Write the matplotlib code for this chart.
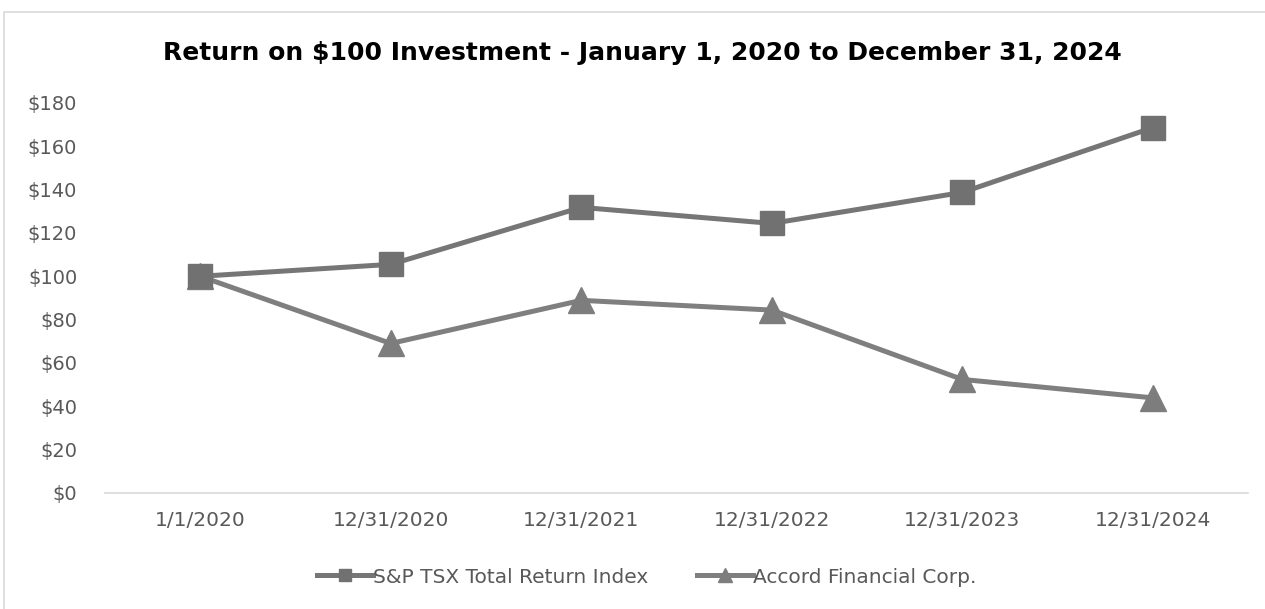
import matplotlib.pyplot as plt
import matplotlib.patches as mpatches
import numpy as np

plt.rcParams['font.family'] = ['DejaVu Sans']

# 数据
dates = ['1/1/2020', '12/31/2020', '12/31/2021', '12/31/2022', '12/31/2023', '12/31/2024']
tsx = [100, 105.5, 131.8, 124.4, 138.7, 168.6]
accord = [100, 69.0, 88.9, 84.4, 52.4, 43.9]
y_ticks = [0, 20, 40, 60, 80, 100, 120, 140, 160, 180]

TEXT = '#595959'

fig = plt.figure(figsize=(12.65, 6.09), dpi=100)
ax = fig.add_axes([0.083, 0.1905, 0.9036, 0.6405])

x = np.arange(len(dates))
ax.plot(x, tsx, color='#767676', linewidth=3.6, marker='s', markersize=17,
        markerfacecolor='#717171', markeredgecolor='#717171',
        label='S&P TSX Total Return Index', zorder=3)
ax.plot(x, accord, color='#7f7f7f', linewidth=3.6, marker='^', markersize=19,
        markerfacecolor='#7d7d7d', markeredgecolor='#7d7d7d',
        label='Accord Financial Corp.', zorder=2)

ax.set_xlim(-0.5, len(dates) - 0.5)
ax.set_ylim(0, 180)
ax.set_xticks(x)
ax.set_xticklabels(dates, fontsize=14.5, color=TEXT)
ax.set_yticks(y_ticks)
ax.set_yticklabels([f'${v}' for v in y_ticks], fontsize=14, color=TEXT)
ax.tick_params(axis='y', length=0, pad=20)
ax.tick_params(axis='x', length=0, pad=13)

for name, spine in ax.spines.items():
    spine.set_visible(name == 'bottom')
ax.spines['bottom'].set_color('#d9d9d9')
ax.spines['bottom'].set_linewidth(1.2)

fig.suptitle('Return on \\$100 Investment - January 1, 2020 to December 31, 2024',
             fontsize=18, fontweight='bold', color='black', x=0.508, y=0.933)

leg = fig.legend(loc='center', bbox_to_anchor=(0.511, 0.0525), ncol=2, frameon=False,
                 fontsize=14.5, handlelength=2.8, handletextpad=0.0, columnspacing=2.4,
                 markerscale=0.5)
for t in leg.get_texts():
    t.set_color(TEXT)

# 外框
fig.patches.append(mpatches.Rectangle((0.003, -0.01), 1.1, 0.99, transform=fig.transFigure,
                                      fill=False, edgecolor='#d9d9d9', linewidth=1.2))

plt.savefig('out.png', dpi=100, facecolor='white')
